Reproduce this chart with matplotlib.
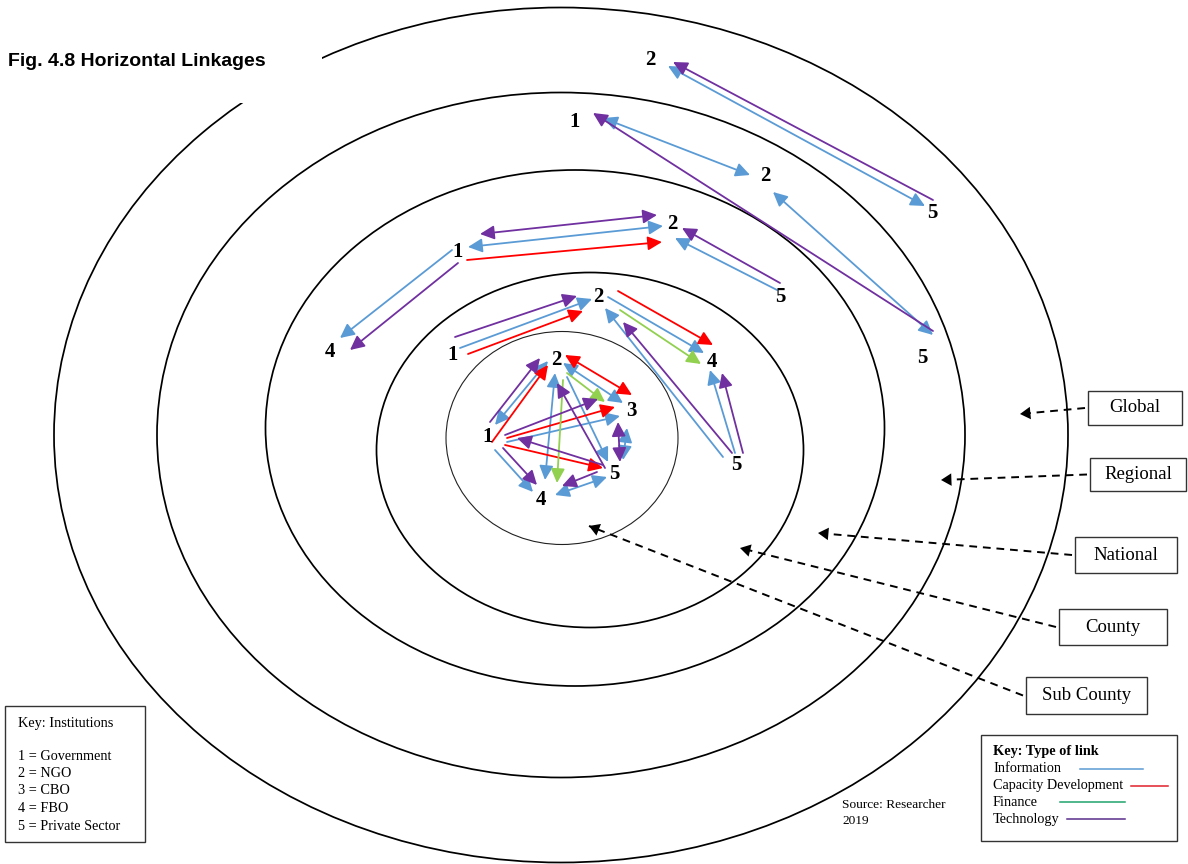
import matplotlib
matplotlib.use("Agg")
import matplotlib.pyplot as plt
from matplotlib.patches import Ellipse, FancyArrowPatch, Rectangle

# ---------------- data ----------------
title = "Fig. 4.8 Horizontal Linkages"

ring_names = ["Sub County", "County", "National", "Regional", "Global"]
ring_cx = [562, 590, 575, 561, 561]
ring_cy = [438, 450, 428, 435, 435]
ring_w = [232, 427, 619, 808, 1014]
ring_h = [213, 355, 516, 685, 855]

# institution labels: (label, x, y)
node_labels = [
    ("2", 650, 60), ("5", 932, 213),                                   # global
    ("1", 575, 122), ("2", 765, 176), ("5", 922, 358),                 # regional
    ("1", 458, 252), ("2", 672, 224), ("4", 330, 352), ("5", 780, 297),  # national
    ("1", 453, 355), ("2", 598, 297), ("4", 712, 362), ("5", 736, 465),  # county
    ("1", 488, 437), ("2", 556, 360), ("3", 631, 411), ("4", 541, 500), ("5", 614, 474),  # sub county
]

# links: (x_from, y_from, x_to, y_to, heads)
information_links = [
    (668, 66, 925, 206, "both"),
    (603, 118, 750, 175, "both"),
    (773, 192, 933, 335, "both"),
    (468, 247, 663, 226, "both"),
    (452, 250, 340, 338, "end"),
    (777, 290, 675, 238, "end"),
    (460, 348, 592, 299, "end"),
    (608, 297, 704, 353, "end"),
    (723, 457, 605, 308, "end"),
    (735, 453, 710, 370, "end"),
    (495, 425, 548, 361, "both"),
    (563, 363, 623, 403, "both"),
    (507, 442, 620, 416, "end"),
    (555, 373, 545, 480, "both"),
    (567, 377, 608, 462, "end"),
    (495, 450, 533, 492, "end"),
    (607, 477, 555, 495, "both"),
    (627, 428, 623, 460, "both"),
]
capacity_links = [
    (467, 260, 662, 242, "end"),
    (468, 354, 583, 311, "end"),
    (618, 291, 713, 345, "end"),
    (492, 442, 548, 365, "end"),
    (565, 355, 632, 395, "both"),
    (507, 438, 615, 407, "end"),
    (505, 445, 603, 468, "end"),
]
finance_links = [
    (620, 310, 701, 364, "end"),
    (567, 373, 605, 402, "end"),
    (563, 380, 557, 483, "end"),
]
technology_links = [
    (933, 200, 673, 62, "end"),
    (933, 331, 593, 113, "end"),
    (480, 234, 657, 215, "both"),
    (458, 263, 350, 350, "end"),
    (780, 283, 682, 228, "end"),
    (455, 337, 577, 296, "end"),
    (732, 453, 623, 322, "end"),
    (743, 453, 722, 373, "end"),
    (490, 422, 540, 358, "end"),
    (505, 435, 598, 399, "end"),
    (605, 468, 557, 383, "end"),
    (603, 465, 517, 438, "end"),
    (503, 448, 537, 485, "end"),
    (597, 472, 562, 486, "end"),
    (618, 422, 620, 462, "both"),
]

# level boxes: (text, box x0, y0, x1, y1, arrow target x, y)
level_boxes = [
    ("Global", 1088, 391, 1182, 425, 1020, 414),
    ("Regional", 1090, 458, 1186, 491, 941, 480),
    ("National", 1075, 537, 1177, 573, 818, 533),
    ("County", 1059, 609, 1167, 645, 740, 548),
    ("Sub County", 1026, 677, 1147, 714, 589, 526),
]

institution_key = ["1 = Government", "2 = NGO", "3 = CBO", "4 = FBO", "5 = Private Sector"]
link_types = ["Information", "Capacity Development", "Finance", "Technology"]
link_colors = ["#5B9BD5", "#FF0000", "#92D050", "#7030A0"]
legend_colors = ["#5B9BD5", "#E0202A", "#1FA36B", "#5A2D8C"]
legend_line_x = [(1080, 1143), (1131, 1168), (1060, 1125), (1067, 1125)]

# ---------------- drawing ----------------
W, H = 1188, 864
fig = plt.figure(figsize=(W / 100, H / 100), dpi=100)
ax = fig.add_axes([0, 0, 1, 1])
ax.set_xlim(0, W)
ax.set_ylim(H, 0)
ax.axis("off")

serif = ["Liberation Serif", "DejaVu Serif"]

for i, (cx, cy, w, h) in enumerate(zip(ring_cx, ring_cy, ring_w, ring_h)):
    ax.add_patch(Ellipse((cx, cy), w, h, fill=False, ec="#222222" if i == 0 else "black",
                         lw=0.8 if i == 0 else 1.25, zorder=1))

# white box behind title
ax.add_patch(Rectangle((0, 28), 322, 75, fc="white", ec="none", zorder=2))
ax.text(8, 62, title, fontsize=14, fontweight="bold",
        family=["Liberation Sans", "DejaVu Sans"],
        va="center", ha="left", zorder=3)


def draw_link(x0, y0, x1, y1, heads, color):
    style = "<|-|>" if heads == "both" else "-|>"
    arr = FancyArrowPatch((x0, y0), (x1, y1), arrowstyle=style + ",head_length=0.45,head_width=0.22",
                          mutation_scale=19, color=color, lw=1.3, shrinkA=0, shrinkB=0, zorder=4)
    ax.add_patch(arr)


for links, col in zip([information_links, capacity_links, finance_links, technology_links], link_colors):
    for (x0, y0, x1, y1, hd) in links:
        draw_link(x0, y0, x1, y1, hd, col)

for lab, x, y in node_labels:
    ax.text(x, y, lab, fontsize=15, fontweight="bold", family=serif,
            ha="center", va="center", zorder=5)

# level boxes with dashed pointer arrows
for (txt, bx0, by0, bx1, by1, tx, ty) in level_boxes:
    ax.add_patch(Rectangle((bx0, by0), bx1 - bx0, by1 - by0, fill=False, ec="#333333", lw=1.0, zorder=3))
    ax.text((bx0 + bx1) / 2, (by0 + by1) / 2, txt, fontsize=13.5, family=serif,
            ha="center", va="center", zorder=3)
    sx, sy = bx0 - 3, (by0 + by1) / 2
    ax.plot([sx, tx], [sy, ty], ls=(0, (4, 3)), color="black", lw=1.4, zorder=3)
    ax.add_patch(FancyArrowPatch((tx + (sx - tx) * 0.02, ty + (sy - ty) * 0.02), (tx, ty),
                                 arrowstyle="-|>,head_length=0.5,head_width=0.3", mutation_scale=15,
                                 color="black", lw=0, shrinkA=0, shrinkB=0, zorder=3))

# key: institutions
ax.add_patch(Rectangle((5, 706), 140, 136, fill=False, ec="#333333", lw=1.0, zorder=3))
ax.text(18, 723, "Key: Institutions", fontsize=10.3, family=serif, va="center", ha="left")
for k, line in enumerate(institution_key):
    ax.text(18, 756 + k * 17.5, line, fontsize=10.3, family=serif, va="center", ha="left")

# key: type of link
ax.add_patch(Rectangle((981, 735), 196, 106, fill=False, ec="#333333", lw=1.0, zorder=3))
ax.text(993, 752, "Key: Type of link", fontsize=10.3, fontweight="bold", family=serif,
        va="center", ha="left")
for k, (lt, c, (lx0, lx1)) in enumerate(zip(link_types, legend_colors, legend_line_x)):
    yy = 769 + k * 16.7
    ax.text(993, yy, lt, fontsize=10.3, family=serif, va="center", ha="left")
    ax.plot([lx0, lx1], [yy, yy], color=c, lw=1.1)

ax.text(842, 805, "Source: Researcher", fontsize=9.6, family=serif, va="center", ha="left")
ax.text(842, 821, "2019", fontsize=9.6, family=serif, va="center", ha="left")

fig.savefig("out.png", dpi=100, facecolor="white")
